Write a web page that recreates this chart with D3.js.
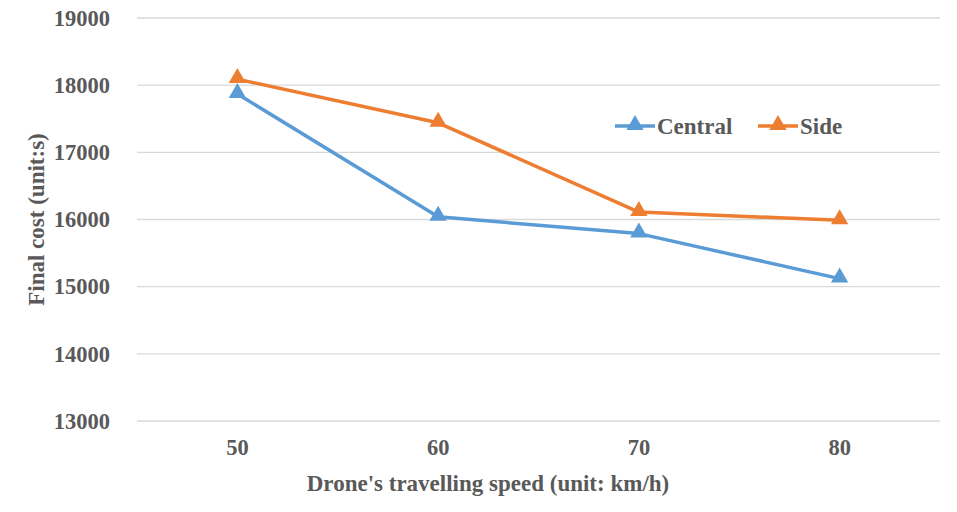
<!DOCTYPE html>
<html>
<head>
<meta charset="utf-8">
<script src="https://cdn.jsdelivr.net/npm/d3@7"></script>
<style>
  body { margin: 0; background: #fff; }
  text { font-family: "Liberation Serif", "Times New Roman", serif; font-weight: bold; fill: #595959; }
</style>
</head>
<body>
<script>
const speeds = ["50", "60", "70", "80"];
const central = [17870, 16040, 15790, 15120];
const side = [18090, 17440, 16110, 15990];
const yTicks = [13000, 14000, 15000, 16000, 17000, 18000, 19000];

let margin = {top: 18, right: 17, bottom: 91, left: 137}
  , width = 957 - margin.left - margin.right
  , height = 512 - margin.top - margin.bottom;

let xScale = d3.scaleBand().domain(speeds).range([0, width]);
let yScale = d3.scaleLinear().domain([13000, 19000]).range([height, 0]);

const svg = d3.select("body").append("svg")
    .attr("width", 957)
    .attr("height", 512)
  .append("g")
    .attr("transform", "translate(" + margin.left + "," + margin.top + ")");

// gridlines
svg.selectAll(".grid")
    .data(yTicks)
  .enter().append("line")
    .attr("x1", 0).attr("x2", width)
    .attr("y1", d => yScale(d)).attr("y2", d => yScale(d))
    .attr("stroke", "#d9d9d9").attr("stroke-width", 1.3);

// y axis
const yAxis = svg.append("g")
    .call(d3.axisLeft(yScale).tickValues(yTicks).tickSize(0).tickPadding(27).tickFormat(d3.format("d")));
yAxis.select(".domain").remove();
yAxis.selectAll("text").style("font-size", "22.5px").attr("fill", "#595959");

// x axis
const xAxis = svg.append("g")
    .attr("transform", "translate(0," + height + ")")
    .call(d3.axisBottom(xScale).tickSize(0).tickPadding(18));
xAxis.select(".domain").remove();
xAxis.selectAll("text").style("font-size", "22.5px").attr("fill", "#595959");

// axis titles
svg.append("text")
    .attr("x", 351)
    .attr("y", height + 70)
    .attr("text-anchor", "middle")
    .style("font-size", "23px")
    .text("Drone's travelling speed (unit: km/h)");

svg.append("text")
    .attr("transform", "translate(" + (-93) + "," + (height / 2) + ") rotate(-90)")
    .attr("text-anchor", "middle")
    .style("font-size", "23px")
    .text("Final cost (unit:s)");

let line = d3.line()
    .x((d, i) => xScale(speeds[i]) + xScale.bandwidth() / 2)
    .y(d => yScale(d));

const tri = d3.symbol().type(d3.symbolTriangle).size(130);

const series = [
  {name: "Central", values: central, color: "#5b9bd5"},
  {name: "Side", values: side, color: "#ed7d31"}
];

series.forEach(s => {
  svg.append("path")
      .datum(s.values)
      .attr("fill", "none")
      .attr("stroke", s.color)
      .attr("stroke-width", 3.5)
      .attr("stroke-linejoin", "round")
      .attr("d", line);
  svg.selectAll(".dot-" + s.name)
      .data(s.values)
    .enter().append("path")
      .attr("d", tri)
      .attr("fill", s.color)
      .attr("transform", (d, i) => "translate(" + (xScale(speeds[i]) + xScale.bandwidth() / 2) + "," + (yScale(d) - 1) + ")");
});

// legend
const legendX = [478, 621];
series.forEach((s, i) => {
  const g = svg.append("g").attr("transform", "translate(" + legendX[i] + ",108)");
  g.append("line").attr("x1", 0).attr("x2", 40).attr("y1", 0).attr("y2", 0)
      .attr("stroke", s.color).attr("stroke-width", 3.5);
  g.append("path").attr("d", tri).attr("fill", s.color).attr("transform", "translate(20,-1)");
  g.append("text").attr("x", 42).attr("y", 8).style("font-size", "23px").text(s.name);
});
</script>
</body>
</html>
